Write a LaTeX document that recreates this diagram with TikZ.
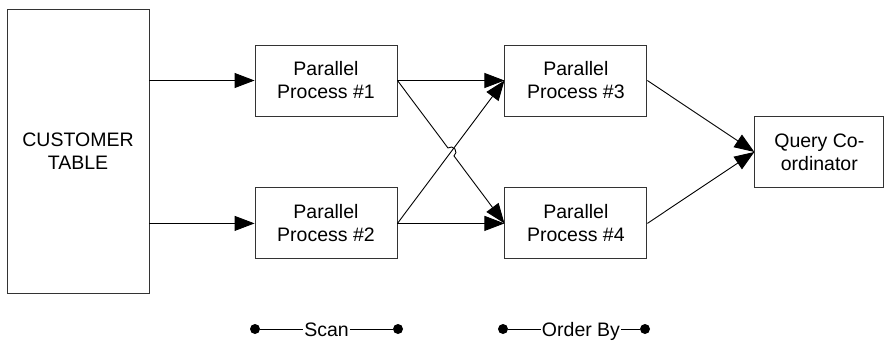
\documentclass[tikz,border=0pt]{standalone}
\usepackage{fontspec}
\setmainfont{Liberation Sans}
\usetikzlibrary{arrows.meta,calc,positioning}

\begin{document}
\begin{tikzpicture}[x=1pt, y=-1pt, >={Triangle[length=20pt,width=15pt]}, line width=0.9pt,
    font=\fontsize{19.5}{23}\selectfont]

    \tikzstyle{proc} = [rectangle, minimum width=142pt, minimum height=71pt, align=center, draw=black!80, inner sep=0pt]
    \tikzstyle{dot} = [circle, fill=black, inner sep=0pt, minimum size=10pt]
    \tikzstyle{lbl} = [inner sep=1pt, text height=14pt, text depth=0pt]

    \useasboundingbox (0,0) rectangle (884,341);

    \node (table)  [proc, minimum height=284pt]  at (78,151)  {CUSTOMER\\TABLE};

    \node (p1)  [proc]                  at (326,80.5)  {Parallel\\Process \#1};
    \node (p2)  [proc, below=71pt of p1]               {Parallel\\Process \#2};
    \node (p3)  [proc, right=107pt of p1]              {Parallel\\Process \#3};
    \node (p4)  [proc, below=71pt of p3]               {Parallel\\Process \#4};

    \coordinate (mid) at ($(p3.east)!0.5!(p4.east)$);
    \node (qc)  [proc, minimum width=129pt, right=107pt of mid]  {Query Co-\\ordinator};

    % scan
    \draw[->]  (table.east |- p1.west)  --  (p1.west);
    \draw[->]  (table.east |- p2.west)  --  (p2.west);

    % redistribution, with a hop where the lines cross
    \coordinate (hop) at ($(p1.east)!0.5!(p4.west)$);
    \draw[->]  (p1.east)  --  (p3.west);
    \draw[->]  (p2.east)  --  (p3.west);
    \draw[->]  (p1.east)  --  ($(hop)!5pt!(p1.east)$)  arc[start angle=127, end angle=-53, radius=5pt]  --  (p4.west);
    \draw[->]  (p2.east)  --  (p4.west);

    % order by
    \draw[->]  (p3.east)  --  (qc.west);
    \draw[->]  (p4.east)  --  (qc.west);

    % legend
    \node (s1)    [dot]  at (255,329)    {};
    \node (s2)    [dot]  at (398,329)    {};
    \node (scan)  [lbl]  at (326.5,329)  {Scan};
    \node (o1)    [dot]  at (503,329)    {};
    \node (o2)    [dot]  at (645,329)    {};
    \node (order) [lbl]  at (581,329)    {Order By};

    \draw  (s1)  --  (scan);
    \draw  (scan)  --  (s2);
    \draw  (o1)  --  (order);
    \draw  (order)  --  (o2);
\end{tikzpicture}
\end{document}
